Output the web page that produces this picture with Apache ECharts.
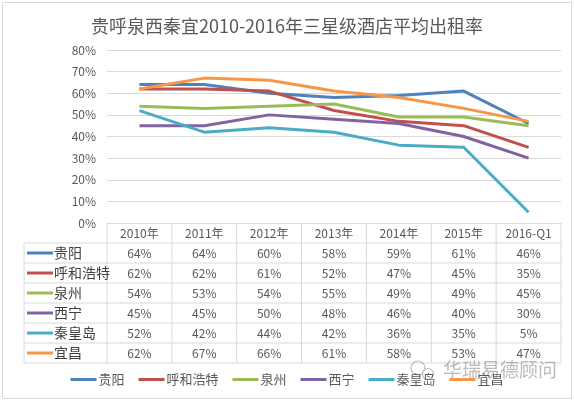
<!DOCTYPE html>
<html lang="zh">
<head>
<meta charset="UTF-8">
<title>三星级酒店平均出租率</title>
<script src="https://cdn.jsdelivr.net/npm/echarts@6/dist/echarts.min.js"></script>
<style>
    html, body { margin: 0; padding: 0; background: #fff; }
    #main { width: 574px; height: 401px; }
</style>
</head>
<body>
<div id="main"></div>
<script>
var categories = ['2010年', '2011年', '2012年', '2013年', '2014年', '2015年', '2016-Q1'];
var cities = ['贵阳', '呼和浩特', '泉州', '西宁', '秦皇岛', '宜昌'];
var guiyang  = [64, 64, 60, 58, 59, 61, 46];
var huhehaote = [62, 62, 61, 52, 47, 45, 35];
var quanzhou = [54, 53, 54, 55, 49, 49, 45];
var xining   = [45, 45, 50, 48, 46, 40, 30];
var qinhuangdao = [52, 42, 44, 42, 36, 35, 5];
var yichang  = [62, 67, 66, 61, 58, 53, 47];
var values = [guiyang, huhehaote, quanzhou, xining, qinhuangdao, yichang];
var colors = ['#4F81BD', '#C0504D', '#9BBB59', '#8064A2', '#4BACC6', '#F79646'];

var FONT = '"Noto Sans CJK SC", "Noto Sans", sans-serif';
var chart = echarts.init(document.getElementById('main'));

var series = cities.map(function (name, i) {
    return {
        name: name,
        type: 'line',
        data: values[i],
        symbol: 'none',
        lineStyle: { width: 3, color: colors[i] },
        itemStyle: { color: colors[i] }
    };
});

chart.setOption({
    animation: false,
    textStyle: { fontFamily: FONT },
    title: {
        text: '贵呼泉西秦宜2010-2016年三星级酒店平均出租率',
        left: 'center',
        top: 12,
        textStyle: { fontSize: 18, fontWeight: 'normal', color: '#595959', fontFamily: FONT }
    },
    legend: {
        bottom: 10,
        left: 'center',
        icon: 'rect',
        itemWidth: 26,
        itemHeight: 3,
        itemGap: 14,
        textStyle: { fontSize: 13, color: '#595959', fontFamily: FONT, padding: [0, 0, 0, -3] },
        data: cities
    },
    grid: { left: 107, right: 13, top: 50, bottom: 178, containLabel: false },
    xAxis: {
        type: 'category',
        data: categories,
        boundaryGap: true,
        axisLine: { show: true, lineStyle: { color: '#d9d9d9' } },
        axisTick: { show: false },
        axisLabel: { margin: 4, fontSize: 12, color: '#595959', fontFamily: FONT }
    },
    yAxis: {
        type: 'value',
        min: 0,
        max: 80,
        interval: 10,
        axisLine: { show: false },
        axisTick: { show: false },
        splitLine: { lineStyle: { color: '#d9d9d9' } },
        axisLabel: { formatter: '{value}%', margin: 11, fontSize: 12, color: '#595959', fontFamily: FONT }
    },
    series: series
});

// data table under the axis, aligned to the category scale
var xs = categories.map(function (c, i) { return chart.convertToPixel({ xAxisIndex: 0 }, i); });
var colW = xs[1] - xs[0];
var tLeft = 24;
var cLeft = xs[0] - colW / 2;
var cRight = xs[xs.length - 1] + colW / 2;
var headTop = chart.convertToPixel({ yAxisIndex: 0 }, 0);
var rowH = 20;
var bodyTop = headTop + rowH;
var bodyBottom = bodyTop + rowH * cities.length;
var lineColor = '#d9d9d9';
var els = [];

function hline(x1, x2, y) {
    els.push({ type: 'line', silent: true, shape: { x1: x1, y1: y, x2: x2, y2: y }, style: { stroke: lineColor, lineWidth: 1 } });
}
function vline(x, y1, y2) {
    els.push({ type: 'line', silent: true, shape: { x1: x, y1: y1, x2: x, y2: y2 }, style: { stroke: lineColor, lineWidth: 1 } });
}

for (var r = 0; r <= cities.length; r++) hline(tLeft, cRight, bodyTop + r * rowH);
vline(tLeft, bodyTop, bodyBottom);
for (var c = 0; c <= categories.length; c++) vline(cLeft + c * colW, headTop, bodyBottom);

cities.forEach(function (name, i) {
    var cy = bodyTop + rowH * i + rowH / 2;
    els.push({ type: 'line', silent: true, shape: { x1: tLeft + 3, y1: cy, x2: tLeft + 29, y2: cy }, style: { stroke: colors[i], lineWidth: 3 } });
    els.push({
        type: 'text', silent: true,
        style: { text: name, x: tLeft + 30, y: cy, fill: '#404040', font: '14px ' + FONT,
                 textAlign: 'left', textVerticalAlign: 'middle', align: 'left', verticalAlign: 'middle' }
    });
    values[i].forEach(function (v, j) {
        els.push({
            type: 'text', silent: true,
            style: { text: v + '%', x: xs[j], y: cy, fill: '#595959', font: '12px ' + FONT,
                     textAlign: 'center', textVerticalAlign: 'middle', align: 'center', verticalAlign: 'middle' }
        });
    });
});

// watermark
els.push({ type: 'circle', silent: true, shape: { cx: 418, cy: 368, r: 7 }, style: { fill: 'none', stroke: 'rgba(160,160,160,0.7)', lineWidth: 1.2 } });
els.push({ type: 'circle', silent: true, shape: { cx: 428, cy: 374, r: 5.5 }, style: { fill: '#fff', stroke: 'rgba(160,160,160,0.7)', lineWidth: 1.2 } });
els.push({
    type: 'text', silent: true,
    style: { text: '华瑞易德顾问', x: 443, y: 370, fill: 'rgba(150,150,150,0.65)', font: '19px ' + FONT,
             textAlign: 'left', textVerticalAlign: 'middle', align: 'left', verticalAlign: 'middle' }
});

// outer frame
els.push({ type: 'rect', silent: true, shape: { x: 2.5, y: 2.5, width: 569, height: 396 }, style: { fill: 'none', stroke: '#d9d9d9', lineWidth: 1 } });

chart.setOption({ graphic: { elements: els } });
</script>
</body>
</html>
